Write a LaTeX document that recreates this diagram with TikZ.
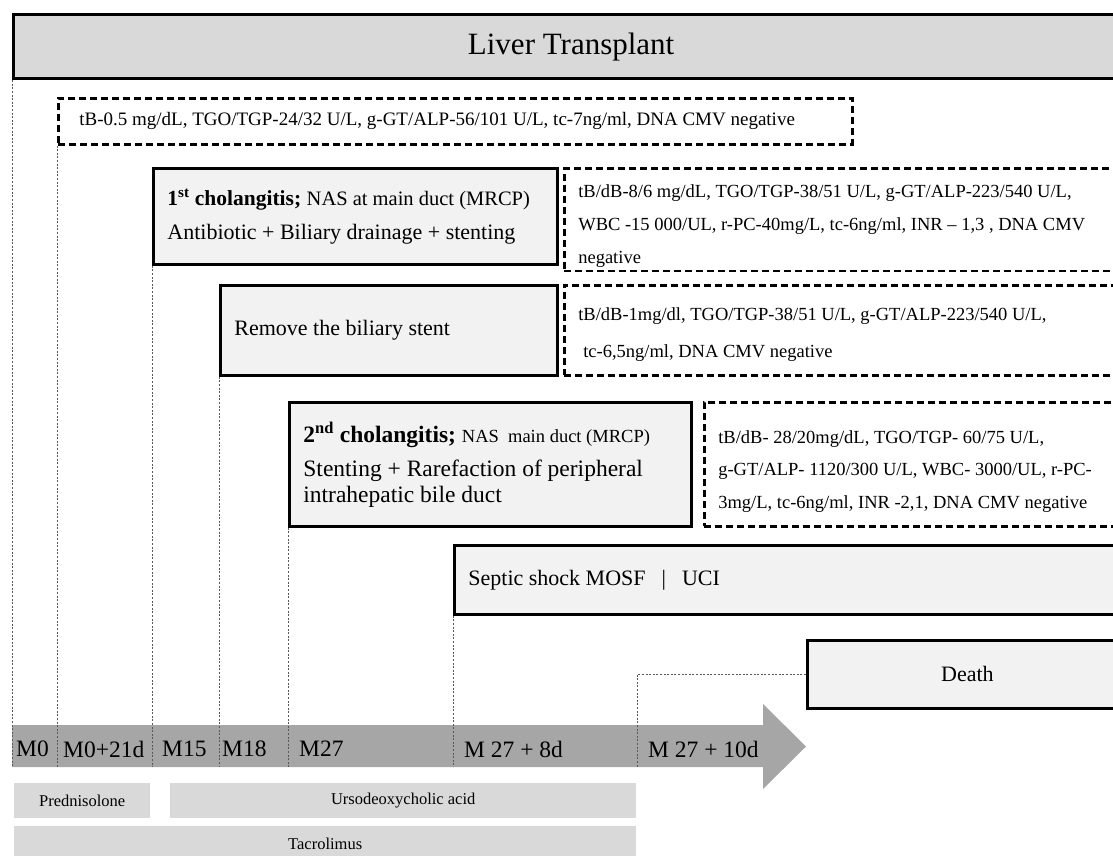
\documentclass[tikz,border=0pt]{standalone}
\usepackage{fontspec}
\setmainfont{Liberation Serif}
\usetikzlibrary{positioning}
\definecolor{boxgray}{HTML}{F2F2F2}
\definecolor{bargray}{HTML}{D9D9D9}
\definecolor{arrowgray}{HTML}{A6A6A6}
\tikzset{
  headbox/.style={draw, line width=3.2pt, fill=bargray, anchor=north west, font=\fontsize{31}{31}\selectfont},
  event/.style={draw, line width=2.8pt, fill=boxgray, anchor=north west, align=flush left, inner xsep=14pt, font=\fontsize{22}{34}\selectfont},
  labs/.style={draw, line width=2.6pt, dash pattern=on 7pt off 4pt, fill=white, anchor=north west, align=flush left, inner xsep=14pt, font=\fontsize{18.5}{33}\selectfont},
  tick/.style={line width=1pt, dash pattern=on 2pt off 1.6pt, black!65},
  month/.style={anchor=west, inner sep=0pt, font=\fontsize{23.5}{23.5}\selectfont},
  drug/.style={fill=bargray, anchor=north west, inner sep=0pt, font=\fontsize{16.5}{16.5}\selectfont},
}
\newcommand{\plain}[1]{{\fontsize{20.5}{34}\selectfont #1}}
\begin{document}
\begin{tikzpicture}[x=1pt, y=-1pt]
  \useasboundingbox (0,0) rectangle (1113,856);
  \clip (0,0) rectangle (1113,856);

  \node[headbox, minimum width=1115, minimum height=64] (lt) at (12,13) {Liver Transplant};
  \node[labs, inner xsep=21pt, text width=752, minimum height=46, font=\fontsize{19}{33}\selectfont] (lab0) at (57,97)
    {tB-0.5 mg/dL, TGO/TGP-24/32 U/L, g-GT/ALP-56/101 U/L, tc-7ng/ml, DNA CMV negative};

  \node[event, text width=376, minimum height=96] (chol1) at (152,167)
    {\mbox{{\fontsize{21.5}{34}\selectfont\textbf{1\textsuperscript{st} cholangitis;}} \plain{NAS at main duct (MRCP)}}\\Antibiotic + Biliary drainage + stenting};
  \node[labs, text width=534, minimum height=96] (lab1) at (563,167)
    {\rule{0pt}{26pt}tB/dB-8/6 mg/dL, TGO/TGP-38/51 U/L, g-GT/ALP-223/540 U/L,\\WBC -15 000/UL, r-PC-40mg/L, tc-6ng/ml, INR -- 1,3 , DNA CMV\\negative};

  \node[event, text width=309, minimum height=90] (stent) at (219,284) {Remove the biliary stent};
  \node[labs, text width=534, minimum height=90] (lab2) at (563,284)
    {\rule{0pt}{22pt}tB/dB-1mg/dl, TGO/TGP-38/51 U/L, g-GT/ALP-223/540 U/L,\\[4pt]\hspace{5pt}tc-6,5ng/ml, DNA CMV negative};

  \node[event, text width=374, minimum height=124, font=\fontsize{23.5}{26}\selectfont] (chol2) at (288,401)
    {\mbox{\textbf{2\textsuperscript{nd} cholangitis;} {\fontsize{18.5}{26}\selectfont NAS\ \ main duct (MRCP)}}\\[8pt]Stenting + Rarefaction of peripheral\\intrahepatic bile duct};
  \node[labs, text width=394, minimum height=124, font=\fontsize{18.5}{32.5}\selectfont] (lab3) at (703,401)
    {\rule{0pt}{27pt}tB/dB- 28/20mg/dL, TGO/TGP- 60/75 U/L,\\g-GT/ALP- 1120/300 U/L, WBC- 3000/UL, r-PC-\\3mg/L, tc-6ng/ml, INR -2,1, DNA CMV negative};

  \node[event, text width=642, minimum height=69] (septic) at (453,544) {Septic shock MOSF\hspace{16pt}|\hspace{16pt}UCI};
  \node[event, align=center, minimum width=320, minimum height=68] (death) at (806,639) {Death};

  \fill[arrowgray] (12,725) -- (763,725) -- (763,704) -- (806,746.5) -- (763,789) -- (763,767) -- (12,767) -- cycle;
  \coordinate (band) at (0,767);
  \coordinate (d10) at (637,767);

  \draw[tick] (lt.south west) -- (lt.south west |- band);
  \draw[tick] (lab0.south west) -- (lab0.south west |- band);
  \draw[tick] (chol1.south west) -- (chol1.south west |- band);
  \draw[tick] (stent.south west) -- (stent.south west |- band);
  \draw[tick] (chol2.south west) -- (chol2.south west |- band);
  \draw[tick] (septic.south west) -- (septic.south west |- band);
  \draw[tick] (death.west) -| (d10);

  \node[month] (m0) at (16,749) {M0};
  \node[month] (m0d21) at (63,749) {M0+21d};
  \node[month] (m15) at (162,749) {M15};
  \node[month] (m18) at (222,749) {M18};
  \node[month] (m27) at (299,749) {M27};
  \node[month] (m27d8) at (464,749) {M 27 + 8d};
  \node[month] (m27d10) at (648,749) {M 27 + 10d};

  \node[drug, minimum width=136, minimum height=35] (pred) at (14,783) {Prednisolone};
  \node[drug, minimum width=466, minimum height=35] (urso) at (170,783) {Ursodeoxycholic acid};
  \node[drug, minimum width=622, minimum height=36] (tacro) at (14,826) {Tacrolimus};
\end{tikzpicture}
\end{document}
